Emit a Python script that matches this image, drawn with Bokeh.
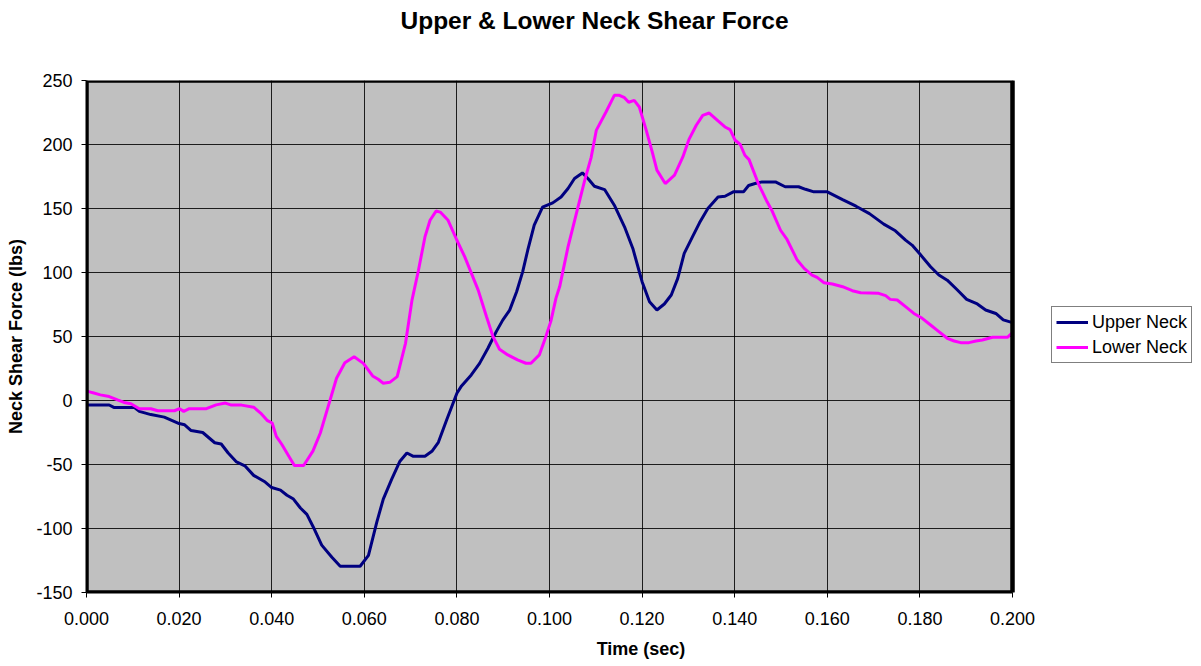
from bokeh.plotting import figure
from bokeh.models import (Range1d, FixedTicker, PrintfTickFormatter, Legend, LegendItem, Title,
                          BoxAnnotation, Grid)
from bokeh.embed import file_html
from bokeh.resources import INLINE

# ---------------- data ----------------
upper_t = [0.0000, 0.0049, 0.0059, 0.0103, 0.0114, 0.0139, 0.0168, 0.0200, 0.0212, 0.0226,
           0.0251, 0.0277, 0.0291, 0.0306, 0.0324, 0.0342, 0.0361, 0.0386, 0.0400, 0.0419,
           0.0433, 0.0447, 0.0462, 0.0476, 0.0490, 0.0508, 0.0530, 0.0548, 0.0591, 0.0609,
           0.0627, 0.0641, 0.0659, 0.0677, 0.0692, 0.0706, 0.0731, 0.0746, 0.0760, 0.0778,
           0.0800, 0.0810, 0.0831, 0.0849, 0.0867, 0.0885, 0.0899, 0.0914, 0.0929, 0.0942,
           0.0953, 0.0967, 0.0985, 0.1007, 0.1025, 0.1040, 0.1054, 0.1071, 0.1083, 0.1097,
           0.1119, 0.1140, 0.1162, 0.1180, 0.1191, 0.1200, 0.1216, 0.1232, 0.1248, 0.1263,
           0.1277, 0.1291, 0.1309, 0.1324, 0.1342, 0.1364, 0.1379, 0.1397, 0.1419, 0.1430,
           0.1444, 0.1459, 0.1488, 0.1509, 0.1538, 0.1553, 0.1571, 0.1600, 0.1633, 0.1662,
           0.1691, 0.1722, 0.1747, 0.1769, 0.1783, 0.1800, 0.1823, 0.1841, 0.1859, 0.1881,
           0.1901, 0.1924, 0.1942, 0.1964, 0.1980, 0.2000]
upper_v = [-3.5, -3.5, -5.4, -5.4, -8.5, -11, -13, -18, -19, -23.5,
           -25, -33, -34, -41, -48, -51, -58.5, -63.7, -68, -70,
           -74, -77, -84, -89, -99, -113, -122.5, -129.5, -129.5, -121,
           -95, -77, -61.6, -47.4, -41, -43.6, -43.6, -39.7, -32.7, -15,
           5.7, 11.4, 20, 29, 40.8, 53.8, 62.8, 70.6, 85, 100.5,
           117.4, 137, 151, 154.4, 159, 165.6, 173.4, 177.8, 173.4, 167.4,
           164.8, 152.6, 135.7, 118.8, 104.5, 92.8, 77.2, 70.7, 75.4, 82.4,
           95.4, 115, 128, 138.8, 150, 159, 159.6, 163, 163, 168,
           169.5, 170.8, 170.8, 167, 167, 165, 163, 163, 157, 151.8,
           146, 137.8, 132.6, 125.3, 121.4, 114.4, 104.5, 98, 94, 86.3,
           79, 75.4, 70.7, 68, 63, 60.8]

lower_t = [0.0000, 0.0012, 0.0030, 0.0049, 0.0067, 0.0081, 0.0096, 0.0114, 0.0139, 0.0154,
           0.0190, 0.0201, 0.0210, 0.0222, 0.0259, 0.0280, 0.0300, 0.0313, 0.0335, 0.0361,
           0.0376, 0.0390, 0.0401, 0.0410, 0.0422, 0.0437, 0.0449, 0.0469, 0.0489, 0.0505,
           0.0523, 0.0540, 0.0558, 0.0578, 0.0598, 0.0618, 0.0630, 0.0641, 0.0655, 0.0671,
           0.0689, 0.0703, 0.0717, 0.0731, 0.0742, 0.0755, 0.0764, 0.0781, 0.0800, 0.0817,
           0.0846, 0.0864, 0.0878, 0.0892, 0.0910, 0.0931, 0.0949, 0.0960, 0.0978, 0.0992,
           0.1003, 0.1014, 0.1022, 0.1040, 0.1058, 0.1076, 0.1090, 0.1101, 0.1122, 0.1140,
           0.1151, 0.1162, 0.1171, 0.1183, 0.1194, 0.1209, 0.1222, 0.1232, 0.1250, 0.1270,
           0.1288, 0.1301, 0.1317, 0.1331, 0.1345, 0.1364, 0.1379, 0.1390, 0.1401, 0.1412,
           0.1422, 0.1431, 0.1451, 0.1470, 0.1480, 0.1499, 0.1513, 0.1535, 0.1550, 0.1567,
           0.1578, 0.1593, 0.1611, 0.1633, 0.1654, 0.1672, 0.1691, 0.1711, 0.1726, 0.1736,
           0.1751, 0.1769, 0.1787, 0.1805, 0.1823, 0.1841, 0.1859, 0.1874, 0.1888, 0.1906,
           0.1921, 0.1935, 0.1957, 0.1989, 0.2000]
lower_v = [7.5, 6.2, 4.4, 3.1, 0.5, -1.5, -2.6, -6.4, -6.4, -8,
           -8, -6.4, -8.5, -6.4, -6.4, -3.4, -2, -3.6, -3.6, -5.2,
           -9.8, -15.5, -17.6, -28, -34.4, -43.5, -50.8, -50.8, -39.6, -25.4,
           -3.4, 17.4, 29.5, 34.2, 29, 19.2, 16.6, 13.5, 14.2, 18.7,
           44.7, 78.4, 101.8, 127.8, 140.8, 148, 147.2, 140.8, 125.2, 112.2,
           86.2, 65.4, 49.9, 40, 35.6, 31.7, 29.1, 29.1, 35.6, 49.9,
           62, 80, 89, 120, 146, 172, 190, 211, 225.4, 238.4,
           238.4, 236.6, 233, 234.5, 229.3, 211, 194, 180, 169.5, 176,
           190.3, 203.8, 215, 222.8, 224.6, 218.4, 213.7, 211.6, 203.3, 200,
           191.6, 188.2, 169.5, 155.2, 148.7, 133, 125.8, 109.7, 103.2, 98,
           96.2, 92, 91, 88.9, 85.8, 84.2, 84, 83.7, 81.9, 79,
           78.5, 73.3, 68, 64.2, 59, 53.8, 48.6, 46.5, 45.2, 45.2,
           46.5, 47.3, 49.4, 49.4, 53]

x_ticks = [0.0, 0.02, 0.04, 0.06, 0.08, 0.10, 0.12, 0.14, 0.16, 0.18, 0.20]
y_ticks = [-150, -100, -50, 0, 50, 100, 150, 200, 250]
x_min, x_max = 0.0, 0.2
y_min, y_max = -150, 250

title_text = "Upper & Lower Neck Shear Force"
x_label = "Time (sec)"
y_label = "Neck Shear Force (lbs)"
series_names = ["Upper Neck", "Lower Neck"]
series_colors = ["#000080", "#FF00FF"]

FONT = "Liberation Sans"

# ---------------- layout ----------------
W, H = 1200, 664
BORDER_L, BORDER_R, BORDER_B = 86, 5, 72
PLOT_AREA_W = 926                       # pixel width of the grey plot area
frame_w = W - BORDER_L - BORDER_R       # frame also holds the legend on its right
x_end = x_max * frame_w / PLOT_AREA_W

p = figure(width=W, height=H, output_backend="svg", toolbar_location=None,
           x_range=Range1d(x_min, x_end), y_range=Range1d(y_min, y_max),
           min_border_left=BORDER_L, min_border_right=BORDER_R, min_border_top=0,
           min_border_bottom=BORDER_B)

# spacer between frame and the title (nearest the frame), real title outermost
p.add_layout(Title(text=" ", text_font_size="2px", standoff=39), "above")
p.title = Title(text=title_text, align="left", offset=314, text_font=FONT,
                text_font_size="24.5px", text_font_style="bold", text_color="black",
                vertical_align="bottom", standoff=8)

p.background_fill_color = "white"
p.border_fill_color = "white"
p.outline_line_color = None

# grey plot area (below the grid) and its thick black border (on top)
area = BoxAnnotation(left=x_min, right=x_max, bottom=y_min, top=y_max,
                     fill_color="#C0C0C0", fill_alpha=1.0, line_color=None, level="image")
p.add_layout(area)
border = BoxAnnotation(left=x_min, right=x_max, bottom=y_min, top=y_max,
                       fill_color=None, fill_alpha=0.0, line_color="black", line_alpha=1.0,
                       line_width=4.5, level="annotation")
p.add_layout(border)

for ax in (p.xaxis[0], p.yaxis[0]):
    ax.major_label_text_font = FONT
    ax.major_label_text_font_size = "18px"
    ax.major_label_text_color = "black"
    ax.axis_label_text_font = FONT
    ax.axis_label_text_font_size = "18px"
    ax.axis_label_text_font_style = "bold"
    ax.axis_label_text_color = "black"
    ax.axis_line_color = "black"
    ax.axis_line_width = 2
    ax.major_tick_line_color = "black"
    ax.major_tick_out = 5
    ax.major_tick_in = 0
    ax.minor_tick_line_color = None

p.xaxis[0].bounds = (x_min, x_max)
p.xaxis[0].ticker = FixedTicker(ticks=x_ticks)
p.xaxis[0].formatter = PrintfTickFormatter(format="%.3f")
p.xaxis[0].axis_label = x_label
p.xaxis[0].major_label_standoff = 14
p.xaxis[0].axis_label_standoff = 11

p.yaxis[0].ticker = FixedTicker(ticks=y_ticks)
p.yaxis[0].formatter = PrintfTickFormatter(format="%d")
p.yaxis[0].axis_label = y_label
p.yaxis[0].major_label_standoff = 9
p.yaxis[0].axis_label_standoff = 7

p.xgrid[0].ticker = FixedTicker(ticks=x_ticks)
p.ygrid[0].ticker = FixedTicker(ticks=y_ticks)
for g in (p.xgrid[0], p.ygrid[0]):
    g.grid_line_color = "black"
    g.grid_line_width = 1
    g.grid_line_alpha = 0.85

if "cross_bounds" in Grid.properties():
    p.ygrid[0].cross_bounds = (x_min, x_max)
else:
    # horizontal grid lines limited to the plot area, from the tick list
    p.ygrid[0].visible = False
    p.segment(x0=[x_min] * len(y_ticks), x1=[x_max] * len(y_ticks), y0=y_ticks, y1=y_ticks,
              line_color="black", line_width=1, line_alpha=0.85, level="underlay")

r_up = p.line(upper_t, upper_v, line_color=series_colors[0], line_width=3)
r_lo = p.line(lower_t, lower_v, line_color=series_colors[1], line_width=3)

legend = Legend(items=[LegendItem(label=series_names[0], renderers=[r_up]),
                       LegendItem(label=series_names[1], renderers=[r_lo])],
                location=(965, 229))
legend.label_text_font = FONT
legend.label_text_font_size = "18px"
legend.label_text_color = "black"
legend.glyph_width = 32
legend.glyph_height = 20
legend.label_height = 22
legend.label_standoff = 4
legend.spacing = 3
legend.padding = 4
legend.margin = 0
legend.border_line_color = "black"
legend.border_line_width = 1
legend.background_fill_color = "white"
legend.background_fill_alpha = 1.0
p.add_layout(legend, "center")

open("out.html", "w").write(file_html(p, INLINE))
